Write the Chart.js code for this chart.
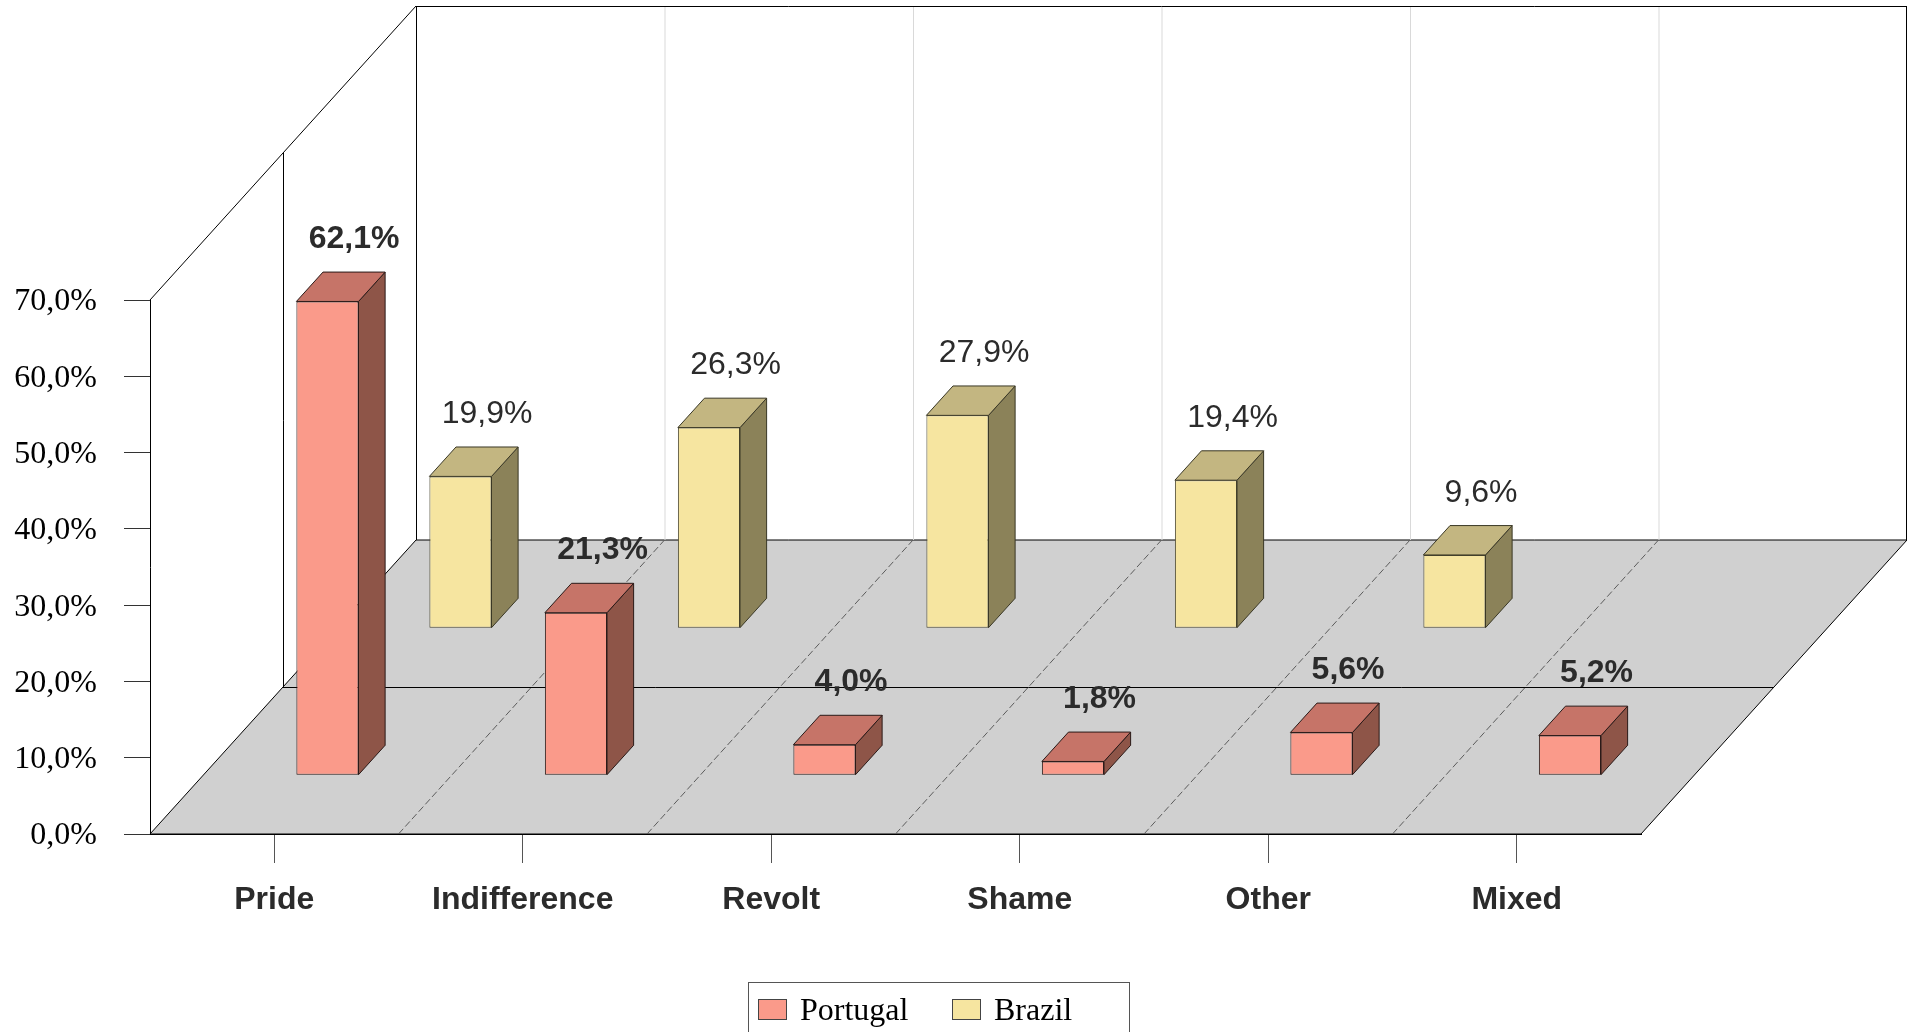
<!DOCTYPE html>
<html lang="en">
<head>
    <meta charset="UTF-8">
    <title>Pride, Indifference, Revolt, Shame: Portugal and Brazil</title>
    <script src="https://cdn.jsdelivr.net/npm/chart.js"></script>
    <style>
        html, body {
            margin: 0;
            padding: 0;
            background: #fff;
            overflow: hidden;
        }
        canvas {
            display: block;
        }
    </style>
</head>
<body>
    <canvas id="chart" width="1907" height="1032"></canvas>

    <script>
        const categories = ['Pride', 'Indifference', 'Revolt', 'Shame', 'Other', 'Mixed'];
        const portugal = [62.1, 21.3, 4.0, 1.8, 5.6, 5.2];
        const brazil = [19.9, 26.3, 27.9, 19.4, 9.6, null];

        const SANS = "'Liberation Sans', Arial, sans-serif";
        const SERIF = "'Liberation Serif', 'Times New Roman', serif";

        // Floor depth in pixels, and how far along it each row of bars stands
        const DEPTH_X = 266;
        const DEPTH_Y = 294;
        const BAR_DEPTH = 0.1;
        const ROW = [0.2, 0.7];

        const FACES = [
            { top: '#c67468', side: '#8e5548', edge: '#2a1a18', label: 'bold 32px ' + SANS },
            { top: '#c3b681', side: '#8b8259', edge: '#3a3826', label: '32px ' + SANS }
        ];

        function pct(value) {
            return value.toFixed(1).replace('.', ',') + '%';
        }

        function line(ctx, x1, y1, x2, y2) {
            ctx.beginPath();
            ctx.moveTo(x1, y1);
            ctx.lineTo(x2, y2);
            ctx.stroke();
        }

        function poly(ctx, pts, fill, stroke) {
            ctx.beginPath();
            pts.forEach((p, i) => i ? ctx.lineTo(p[0], p[1]) : ctx.moveTo(p[0], p[1]));
            ctx.closePath();
            ctx.fillStyle = fill;
            ctx.fill();
            ctx.strokeStyle = stroke;
            ctx.stroke();
        }

        // Walls and floor behind the bars
        const roomPlugin = {
            id: 'room',
            beforeDatasetsDraw(chart) {
                const ctx = chart.ctx;
                const { left, right, top, bottom } = chart.chartArea;
                const step = (right - left) / categories.length;
                const backLeft = left + DEPTH_X;
                const backRight = right + DEPTH_X;
                const backY = bottom - DEPTH_Y;
                const roof = top - DEPTH_Y;

                ctx.save();
                ctx.lineWidth = 1;

                poly(ctx, [[left, bottom], [right, bottom], [backRight, backY], [backLeft, backY]], '#d0d0d0', '#000');

                // Grid on the back wall
                ctx.strokeStyle = '#d9d9d9';
                for (let i = 1; i < categories.length; i++) {
                    line(ctx, backLeft + step * i + 0.5, roof, backLeft + step * i + 0.5, backY);
                }

                // Dashed category borders on the floor
                ctx.strokeStyle = '#5c5c5c';
                ctx.setLineDash([7, 3]);
                for (let i = 1; i < categories.length; i++) {
                    line(ctx, left + step * i, bottom, backLeft + step * i, backY);
                }
                ctx.setLineDash([]);

                ctx.strokeStyle = '#000';
                line(ctx, left, top, backLeft, roof);
                line(ctx, backLeft + 0.5, roof, backLeft + 0.5, backY);
                line(ctx, backLeft, roof + 0.5, backRight, roof + 0.5);
                line(ctx, backRight - 0.5, roof, backRight - 0.5, backY);

                // Line across the middle of the floor, with its wall edge
                const midX = left + DEPTH_X / 2;
                const midY = Math.round(bottom - DEPTH_Y / 2) + 0.5;
                line(ctx, midX + 0.5, top - DEPTH_Y / 2, midX + 0.5, midY);
                line(ctx, midX, midY, right + DEPTH_X / 2, midY);
                ctx.restore();
            }
        };

        // Moves each dataset onto its floor row and adds the top and side of each bar
        const boxPlugin = {
            id: 'box',
            beforeDatasetDraw(chart, args) {
                const ctx = chart.ctx;
                ctx.save();
                ctx.translate(DEPTH_X * ROW[args.index], -DEPTH_Y * ROW[args.index]);
            },
            afterDatasetDraw(chart, args) {
                const ctx = chart.ctx;
                const face = FACES[args.index];
                const values = chart.data.datasets[args.index].data;
                const dx = DEPTH_X * BAR_DEPTH;
                const dy = DEPTH_Y * BAR_DEPTH;
                ctx.lineWidth = 1;
                args.meta.data.forEach((bar, i) => {
                    if (values[i] === null) {
                        return;
                    }
                    const l = bar.x - bar.width / 2;
                    const r = bar.x + bar.width / 2;
                    poly(ctx, [[r, bar.y], [r + dx, bar.y - dy], [r + dx, bar.base - dy], [r, bar.base]], face.side, face.edge);
                    poly(ctx, [[l, bar.y], [l + dx, bar.y - dy], [r + dx, bar.y - dy], [r, bar.y]], face.top, face.edge);
                });
                ctx.restore();
            },
            afterDatasetsDraw(chart) {
                const ctx = chart.ctx;
                ctx.save();
                ctx.textAlign = 'center';
                ctx.textBaseline = 'alphabetic';
                ctx.fillStyle = '#2b2b2b';
                chart.data.datasets.forEach((dataset, d) => {
                    ctx.font = FACES[d].label;
                    chart.getDatasetMeta(d).data.forEach((bar, i) => {
                        if (dataset.data[i] === null) {
                            return;
                        }
                        const x = bar.x + DEPTH_X * (ROW[d] + BAR_DEPTH);
                        const y = bar.y - DEPTH_Y * (ROW[d] + BAR_DEPTH) - 24;
                        ctx.fillText(pct(dataset.data[i]), x, y);
                    });
                });
                ctx.restore();
            }
        };

        // Legend box, it runs off the bottom of the picture
        const legendPlugin = {
            id: 'legendBox',
            afterDraw(chart) {
                const ctx = chart.ctx;
                const spots = [{ box: 758, text: 800 }, { box: 952, text: 994 }];
                ctx.save();
                ctx.lineWidth = 1;
                ctx.strokeStyle = '#555';
                ctx.strokeRect(748.5, 982.5, 381, 60);
                ctx.font = '32px ' + SERIF;
                ctx.textAlign = 'left';
                ctx.textBaseline = 'alphabetic';
                chart.data.datasets.forEach((dataset, d) => {
                    ctx.fillStyle = dataset.backgroundColor;
                    ctx.strokeStyle = '#444';
                    ctx.fillRect(spots[d].box, 999, 29, 21);
                    ctx.strokeRect(spots[d].box + 0.5, 999.5, 28, 20);
                    ctx.fillStyle = '#000';
                    ctx.fillText(dataset.label, spots[d].text, 1020);
                });
                ctx.restore();
            }
        };

        new Chart(document.getElementById('chart'), {
            type: 'bar',
            data: {
                labels: categories,
                datasets: [
                    {
                        label: 'Portugal',
                        data: portugal,
                        backgroundColor: '#fa9a8a',
                        borderColor: '#2a1a18',
                        borderWidth: 1,
                        borderSkipped: false,
                        clip: false
                    },
                    {
                        label: 'Brazil',
                        data: brazil,
                        backgroundColor: '#f6e5a0',
                        borderColor: '#4a4630',
                        borderWidth: 1,
                        borderSkipped: false,
                        clip: false
                    }
                ]
            },
            plugins: [roomPlugin, boxPlugin, legendPlugin],
            options: {
                responsive: false,
                animation: false,
                grouped: false,
                barPercentage: 0.25,
                categoryPercentage: 1,
                layout: {
                    padding: { top: 300, right: 266, left: 0, bottom: 0 }
                },
                plugins: {
                    legend: { display: false },
                    tooltip: { enabled: false }
                },
                scales: {
                    x: {
                        afterFit(scale) { scale.height = 198; },
                        border: { color: '#000' },
                        grid: {
                            offset: false,
                            drawOnChartArea: false,
                            tickLength: 29,
                            tickColor: '#555'
                        },
                        ticks: {
                            autoSkip: false,
                            maxRotation: 0,
                            padding: 18,
                            color: '#2b2b2b',
                            font: { family: SANS, size: 32, weight: 'bold' }
                        }
                    },
                    y: {
                        min: 0,
                        max: 70,
                        afterFit(scale) { scale.width = 150; },
                        border: { color: '#000' },
                        grid: {
                            drawOnChartArea: false,
                            tickLength: 26,
                            tickColor: '#333'
                        },
                        ticks: {
                            stepSize: 10,
                            padding: 27,
                            labelOffset: 2,
                            color: '#000',
                            font: { family: SERIF, size: 32 },
                            callback: value => pct(value)
                        }
                    }
                }
            }
        });
    </script>
</body>
</html>
